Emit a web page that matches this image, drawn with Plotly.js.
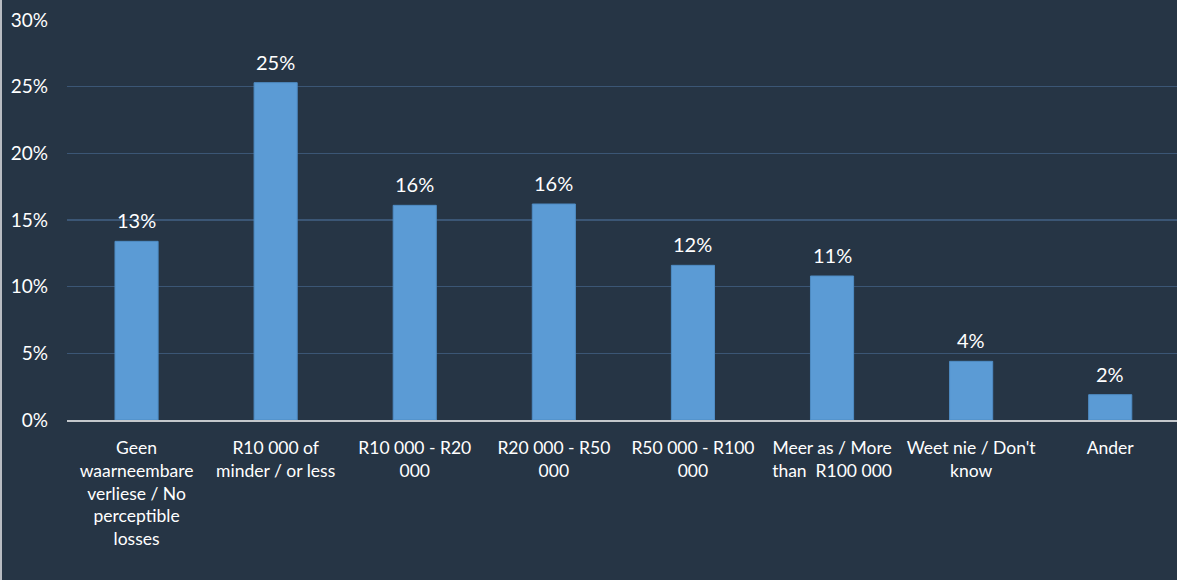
<!DOCTYPE html>
<html>
<head>
<meta charset="utf-8">
<script src="https://cdn.plot.ly/plotly-3.0.1.min.js"></script>
<style>
  html, body { margin: 0; padding: 0; background: #263545; }
  #chart { width: 1175px; height: 580px; border-left: 2px solid #b8bcc2; }
</style>
</head>
<body>
<div id="chart"></div>
<script>
// Estimated financial losses (share of respondents)
const categories = [
  "Geen<br>waarneembare<br>verliese / No<br>perceptible<br>losses",
  "R10 000 of<br>minder / or less",
  "R10 000 - R20<br>000",
  "R20 000 - R50<br>000",
  "R50 000 - R100<br>000",
  "Meer as / More<br>than\u00a0 R100 000",
  "Weet nie / Don't<br>know",
  "Ander"
];
const shares = [0.134, 0.253, 0.161, 0.162, 0.116, 0.108, 0.044, 0.019];
const yTickValues = [0, 0.05, 0.10, 0.15, 0.20, 0.25, 0.30];

const fontFamily = "Lato, 'Open Sans', sans-serif";
const textColor = "#ffffff";

const bars = {
  type: "bar",
  x: categories,
  y: shares,
  marker: { color: "#5b9bd5", line: { color: "#4f8cc4", width: 1 } },
  hoverinfo: "skip"
};

// Percentage labels above each bar, placed from the same values
const valueLabels = categories.map((c, i) => ({
  x: c,
  y: shares[i],
  xref: "x",
  yref: "y",
  text: Math.round(shares[i] * 100) + "%",
  showarrow: false,
  yanchor: "bottom",
  yshift: 7,
  font: { family: fontFamily, size: 20, color: textColor }
}));

const layout = {
  width: 1175,
  height: 580,
  margin: { l: 65, r: 0, t: 20, b: 160 },
  paper_bgcolor: "#263545",
  plot_bgcolor: "#263545",
  showlegend: false,
  bargap: 0.69,
  xaxis: {
    type: "category",
    range: [-0.5, 7.48],
    showgrid: false,
    showline: true,
    linecolor: "#c4c8cc",
    linewidth: 2,
    ticks: "",
    ticklabelstandoff: 11,
    tickfont: { family: fontFamily, size: 17.5, color: textColor },
    tickangle: 0,
    zeroline: false
  },
  yaxis: {
    range: [0, 0.30],
    tickvals: yTickValues,
    tickformat: ".0%",
    showgrid: true,
    gridcolor: "#3b5675",
    gridwidth: 1.5,
    showline: false,
    zeroline: false,
    ticks: "",
    ticklabelstandoff: 18,
    tickfont: { family: fontFamily, size: 19, color: textColor }
  },
  annotations: valueLabels
};

Plotly.newPlot("chart", [bars], layout, { displayModeBar: false, staticPlot: true });
</script>
</body>
</html>
